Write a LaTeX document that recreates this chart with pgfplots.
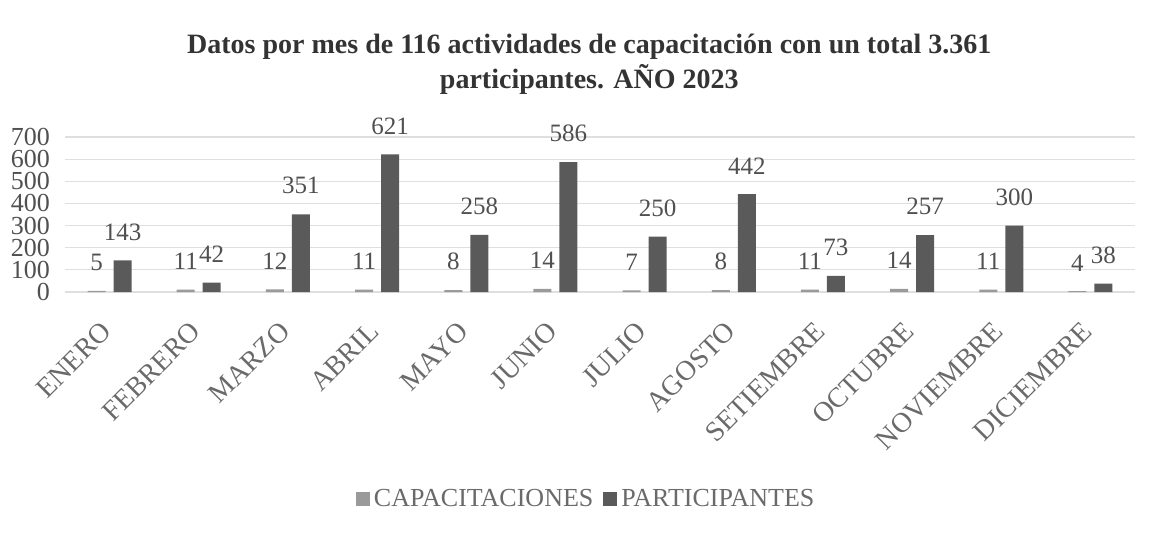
\documentclass[border=0pt]{standalone}
\usepackage{pgfplots}
\pgfplotsset{compat=1.18}
\usepackage{fontspec}
\setmainfont{Liberation Serif}
\definecolor{capc}{HTML}{9A9A9A}
\definecolor{partc}{HTML}{5A5A5A}
\definecolor{txtc}{HTML}{505050}
\begin{document}
\begin{tikzpicture}
\begin{axis}[
  scale only axis,
  width=535pt, height=77.5pt,
  ymin=0, ymax=700,
  xmin=-0.5, xmax=11.5,
  ytick={0,100,...,700},
  ymajorgrids,
  grid style={gray!25, line width=0.6pt},
  axis line style={draw=none},
  major tick length=0pt,
  xtick=data,
  xticklabels={ENERO,FEBRERO,MARZO,ABRIL,MAYO,JUNIO,JULIO,AGOSTO,SETIEMBRE,OCTUBRE,NOVIEMBRE,DICIEMBRE},
  xticklabel style={xshift=1pt, yshift=-15pt, rotate=45, anchor=east, font=\fontsize{14}{15}\selectfont, text=txtc!85},
  yticklabel style={font=\fontsize{13}{13}\selectfont, text=txtc, xshift=-4pt},
  /pgf/number format/assume math mode=true,
  ybar=4pt, bar width=9pt,
  clip=false,
  nodes near coords,
  every node near coord/.append style={font=\fontsize{12.5}{14}\selectfont, text=txtc, yshift=6.5pt},
  title={Datos por mes de 116 actividades de capacitación con un total 3.361\\participantes. AÑO 2023},
  title style={font=\bfseries\fontsize{14}{17.5}\selectfont, align=center, at={(0.49,1)}, anchor=south, yshift=11.5pt, text=black!80},
  legend style={at={(0.488,0)}, anchor=center, yshift=-103.5pt, draw=none, legend columns=-1, font=\fontsize{13}{14}\selectfont, text=txtc!85, /tikz/every even column/.append style={column sep=3pt}},
  legend image code/.code={\draw[#1, draw=none] (0pt,-3.5pt) rectangle (7pt,3.5pt);},
]
\addplot[fill=capc, draw=none] coordinates {(0,5) (1,11) (2,12) (3,11) (4,8) (5,14) (6,7) (7,8) (8,11) (9,14) (10,11) (11,4)};
\addplot[fill=partc, draw=none] coordinates {(0,143) (1,42) (2,351) (3,621) (4,258) (5,586) (6,250) (7,442) (8,73) (9,257) (10,300) (11,38)};
\legend{CAPACITACIONES, PARTICIPANTES}
\end{axis}
\useasboundingbox (-32.5pt,-122.5pt) rectangle (544pt,146pt);
\end{tikzpicture}
\end{document}
